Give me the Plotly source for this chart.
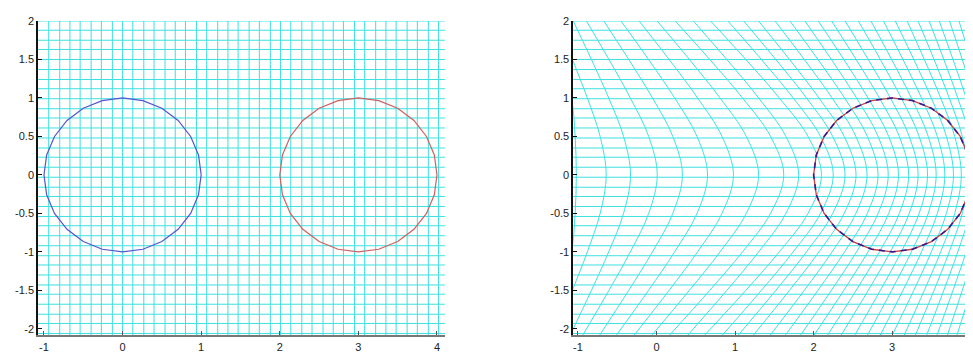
import numpy as np
import plotly.graph_objects as go

grade_x = [-0.94, -0.80, -0.67, -0.54, -0.40, -0.27, -0.13, 0.0, 0.13, 0.27, 0.40, 0.54,
           0.67, 0.80, 0.94, 1.07, 1.21, 1.34, 1.47, 1.61, 1.74, 1.88, 2.01, 2.14, 2.28,
           2.41, 2.55, 2.68, 2.81, 2.95, 3.08, 3.22, 3.35, 3.48, 3.62, 3.75, 3.89, 4.02]
grade_y = [-2.06, -1.93, -1.81, -1.68, -1.55, -1.43, -1.30, -1.17, -1.05, -0.92, -0.79,
           -0.66, -0.54, -0.41, -0.28, -0.16, -0.03, 0.10, 0.23, 0.35, 0.48, 0.61, 0.74,
           0.86, 0.99, 1.12, 1.24, 1.37, 1.50, 1.63, 1.75, 1.88, 2.0]

# Circulos (centro x, centro y, raio)
circulo_azul = [0.0, 0.0, 1.0]
circulo_vermelho = [3.0, 0.0, 1.0]

# Grade deformada: posicao x de cada curva em cada nivel de y (metade de cima, espelhada embaixo)
niveis_y = [0.0, 0.5, 1.0, 1.5, 2.1]
curva_y00 = [-1.02, -0.64, -0.33, 0.01, 0.33, 0.65, 0.98, 1.30, 1.62, 1.81, 2.10, 2.25, 2.40,
             2.54, 2.68, 2.82, 2.95, 3.08, 3.21, 3.33, 3.45, 3.56, 3.67, 3.78, 3.88, 3.97,
             4.06, 4.15, 4.24, 4.33, 4.42, 4.51]
curva_y05 = [-1.035, -0.717, -0.419, -0.099, 0.208, 0.516, 0.834, 1.143, 1.452, 1.647, 1.929,
             2.087, 2.243, 2.389, 2.538, 2.684, 2.821, 2.956, 3.091, 3.217, 3.343, 3.459, 3.575,
             3.690, 3.796, 3.892, 3.988, 4.083, 4.178, 4.272, 4.366, 4.460]
curva_y10 = [-1.08, -0.880, -0.608, -0.333, -0.051, 0.231, 0.523, 0.809, 1.095, 1.300, 1.563,
             1.740, 1.909, 2.068, 2.235, 2.394, 2.546, 2.692, 2.837, 2.976, 3.115, 3.244, 3.373,
             3.498, 3.617, 3.726, 3.835, 3.941, 4.046, 4.147, 4.252, 4.354]
curva_y15 = [-1.20, -1.070, -0.828, -0.605, -0.353, -0.101, 0.161, 0.419, 0.678, 0.895, 1.137,
             1.335, 1.519, 1.693, 1.881, 2.055, 2.226, 2.384, 2.541, 2.695, 2.849, 2.993, 3.137,
             3.275, 3.409, 3.533, 3.657, 3.774, 3.892, 4.002, 4.120, 4.230]
curva_y21 = [-1.40, -1.311, -1.107, -0.949, -0.735, -0.522, -0.298, -0.074, 0.150, 0.383, 0.598,
             0.823, 1.026, 1.219, 1.434, 1.627, 1.821, 1.994, 2.166, 2.340, 2.513, 2.676, 2.839,
             2.992, 3.145, 3.288, 3.432, 3.564, 3.697, 3.819, 3.951, 4.073]

# Rotulos dos eixos
ticks_x = [-1, 0, 1, 2, 3, 4]
rotulos_x = ['-1', '0', '1', '2', '3', '4']
ticks_y = [-2, -1.5, -1, -0.5, 0, 0.5, 1, 1.5, 2]
rotulos_y = ['-2', '-1.5', '-1', '-0.5', '0', '0.5', '1', '1.5', '2']

CIANO = '#3fe0e0'


def pontos_circulo(c, n=25):
    # contorno do circulo a partir do centro e do raio
    t = np.linspace(0, 2 * np.pi, n)
    return c[0] + c[2] * np.cos(t), c[1] + c[2] * np.sin(t)


def Deformacao():
    fig = go.Figure()

    # ---- Grafico da esquerda: grade regular ----
    for gx in grade_x:
        fig.add_trace(go.Scatter(x=[gx, gx], y=[-2.2, 2.2], mode='lines',
                                 line=dict(color=CIANO, width=1), xaxis='x', yaxis='y'))
    for gy in grade_y:
        fig.add_trace(go.Scatter(x=[-1.2, 4.2], y=[gy, gy], mode='lines',
                                 line=dict(color=CIANO, width=1), xaxis='x', yaxis='y'))
    bx, by = pontos_circulo(circulo_azul)
    fig.add_trace(go.Scatter(x=bx, y=by, mode='lines', line=dict(color='#5555d0', width=1.2),
                             xaxis='x', yaxis='y'))
    rx, ry = pontos_circulo(circulo_vermelho)
    fig.add_trace(go.Scatter(x=rx, y=ry, mode='lines', line=dict(color='#d06060', width=1.2),
                             xaxis='x', yaxis='y'))

    # ---- Grafico da direita: grade deformada ----
    for gy in grade_y:
        fig.add_trace(go.Scatter(x=[-1.2, 4.2], y=[gy, gy], mode='lines',
                                 line=dict(color=CIANO, width=1), xaxis='x2', yaxis='y2'))
    niveis = [curva_y00, curva_y05, curva_y10, curva_y15, curva_y21]
    for i in range(len(curva_y00)):
        xs = [n[i] for n in niveis]
        x_curva = xs[::-1] + xs[1:]
        y_curva = [-v for v in niveis_y[::-1]] + niveis_y[1:]
        fig.add_trace(go.Scatter(x=x_curva, y=y_curva, mode='lines',
                                 line=dict(color=CIANO, width=1, shape='spline'),
                                 xaxis='x2', yaxis='y2'))
    fig.add_trace(go.Scatter(x=rx, y=ry, mode='lines', line=dict(color='#c84040', width=1.3),
                             xaxis='x2', yaxis='y2'))
    fig.add_trace(go.Scatter(x=rx, y=ry, mode='lines',
                             line=dict(color='#3a1a90', width=1.6, dash='6px,5px'),
                             xaxis='x2', yaxis='y2'))

    fonte = dict(family='Liberation Sans, Arial', size=11, color='#222222')
    eixo_x = dict(tickvals=ticks_x, ticktext=rotulos_x, ticks='inside', ticklen=4,
                  showgrid=False, zeroline=False, showline=True, linecolor='#777777',
                  linewidth=2, tickcolor='#555555', ticklabelstandoff=1, tickfont=fonte)
    eixo_y = dict(tickvals=ticks_y, ticktext=rotulos_y, ticks='inside', ticklen=4,
                  showgrid=False, zeroline=False, showline=True, linecolor='#111111',
                  linewidth=1.5, tickcolor='#111111', range=[-2.08, 2.0], tickfont=fonte)

    # a pagina tem 8px de margem no body, por isso as margens ja descontam esse deslocamento
    fig.update_layout(
        width=973, height=352,
        margin=dict(l=26, r=8, t=7, b=23),
        paper_bgcolor='white', plot_bgcolor='white',
        showlegend=False,
        xaxis=dict(eixo_x, domain=[0, 0.4356], range=[-1.076, 4.1]),
        yaxis=dict(eixo_y, anchor='x'),
        xaxis2=dict(eixo_x, domain=[0.573, 1.0], range=[-1.06, 4.016], anchor='y2'),
        yaxis2=dict(eixo_y, anchor='x2'),
    )

    fig.write_html('out.html')


Deformacao()
